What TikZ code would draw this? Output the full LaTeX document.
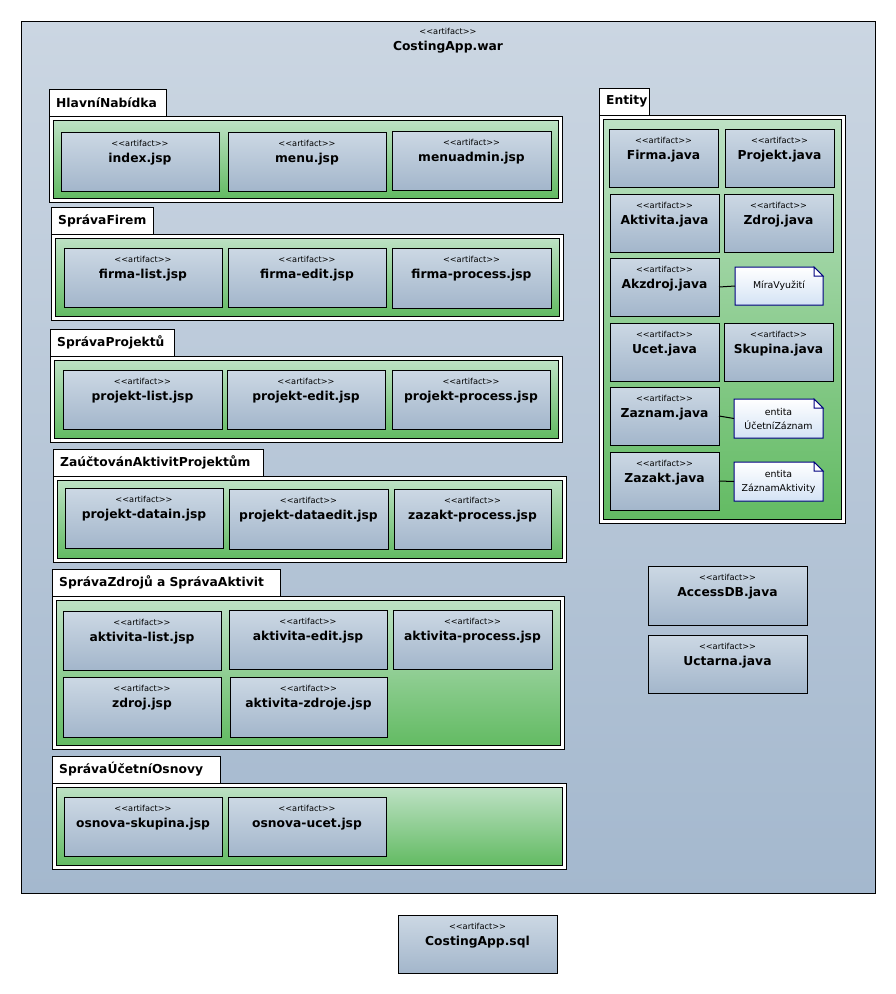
\documentclass[tikz,border=0pt]{standalone}
\usepackage{fontspec}
\setmainfont{DejaVu Sans}
\definecolor{wartop}{HTML}{CBD6E2}
\definecolor{warbot}{HTML}{A4B8CE}
\definecolor{arttop}{HTML}{CCD8E4}
\definecolor{artbot}{HTML}{A3B6CB}
\definecolor{grtop}{HTML}{BDE1C4}
\definecolor{grbot}{HTML}{63BB63}
\definecolor{notebot}{HTML}{D4E3F5}
\definecolor{notedraw}{HTML}{000080}
\tikzset{
  artbox/.style={draw=black, line width=1pt, top color=arttop, bottom color=artbot, inner sep=0pt, outer sep=0pt, anchor=north west},
  stereo/.style={font=\fontsize{8.2}{9}\selectfont, inner sep=0pt},
  aname/.style={font=\bfseries\fontsize{12.3}{14}\selectfont, inner sep=0pt},
  tablbl/.style={font=\bfseries\fontsize{12.3}{14}\selectfont, inner sep=0pt, anchor=west},
  pkgline/.style={draw=black, line width=1pt, fill=white},
  greenbox/.style={draw=black, line width=1pt, top color=grtop, bottom color=grbot},
  notetxt/.style={inner sep=0pt, outer sep=0pt, anchor=north west, align=center, font=\fontsize{9.4}{14}\selectfont},
  noteline/.style={draw=notedraw, line width=1pt},
  link/.style={draw=black, line width=1pt}
}
\newcommand{\stereotext}{<\kern0pt<artifact>\kern0pt>}
% name x y w h label
\newcommand{\artf}[6]{%
  \node[artbox, minimum width=#4pt, minimum height=#5pt] (#1) at (#2,#3) {};
  \node[stereo] (#1st) at ([yshift=-11pt]#1.north) {\stereotext};
  \node[aname] (#1nm) at ([yshift=-27pt]#1.north) {#6};}
% name x1 tabtop tabright bodytop x2 y2 label
\newcommand{\pkg}[8]{%
  \path[pkgline] (#2,#3) rectangle (#4,#5);
  \node[tablbl] (#1) at (#2+7,{(#3+#5)/2}) {#8};
  \path[pkgline] (#2,#5) rectangle (#6,#7);
  \path[greenbox] (#2+4,#5+4) rectangle (#6-4,#7-4);}
% name x y w h text
\newcommand{\notebox}[6]{%
  \path[noteline, top color=white, bottom color=notebot] (#2,#3) -- (#2+#4-9,#3) -- (#2+#4,#3+9) -- (#2+#4,#3+#5) -- (#2,#3+#5) -- cycle;
  \path[noteline, fill=white] (#2+#4-9,#3) -- (#2+#4-9,#3+9) -- (#2+#4,#3+9) -- cycle;
  \node[notetxt, minimum width=#4pt, minimum height=#5pt] (#1) at (#2,#3) {#6};}
\begin{document}
\begin{tikzpicture}[x=1pt,y=-1pt]
\useasboundingbox (0,0) rectangle (895,994);
% outer war artifact
\node[draw=black, line width=1pt, top color=wartop, bottom color=warbot, inner sep=0pt, outer sep=0pt, anchor=north west, minimum width=854pt, minimum height=872pt] (war) at (21,21) {};
\node[stereo] (warst) at (448,31) {\stereotext};
\node[aname] (warnm) at (448,47) {CostingApp.war};

% packages
\pkg{hlavni}{49}{89}{166}{116}{562}{202}{HlavníNabídka}
\pkg{firem}{51}{207}{153}{234}{563}{320}{SprávaFirem}
\pkg{projektu}{50}{329}{174}{356}{562}{442}{SprávaProjektů}
\pkg{zauct}{53}{449}{263}{476}{566}{562}{ZaúčtovánAktivitProjektům}
\pkg{zdroju}{52}{569}{280}{596}{564}{749}{SprávaZdrojů a SprávaAktivit}
\pkg{osnovy}{52}{756}{220}{783}{566}{869}{SprávaÚčetníOsnovy}
\pkg{entity}{599}{88}{649}{115}{845}{523}{Entity}

% artifacts
\artf{index}{61}{132}{158}{59}{index.jsp}
\artf{menu}{228}{132}{158}{59}{menu.jsp}
\artf{menuadmin}{392}{131}{159}{59}{menuadmin.jsp}
\artf{firmalist}{64}{248}{158}{59}{firma-list.jsp}
\artf{firmaedit}{228}{248}{158}{59}{firma-edit.jsp}
\artf{firmaproc}{392}{248}{159}{60}{firma-process.jsp}
\artf{projlist}{63}{370}{159}{59}{projekt-list.jsp}
\artf{projedit}{227}{370}{158}{59}{projekt-edit.jsp}
\artf{projproc}{392}{370}{158}{59}{projekt-process.jsp}
\artf{datain}{65}{488}{158}{60}{projekt-datain.jsp}
\artf{dataedit}{229}{489}{159}{60}{projekt-dataedit.jsp}
\artf{zazaktproc}{394}{489}{157}{60}{zazakt-process.jsp}
\artf{aktlist}{63}{611}{158}{59}{aktivita-list.jsp}
\artf{aktedit}{229}{610}{158}{59}{aktivita-edit.jsp}
\artf{aktproc}{393}{610}{159}{59}{aktivita-process.jsp}
\artf{zdrojjsp}{63}{677}{158}{60}{zdroj.jsp}
\artf{aktzdroje}{230}{677}{157}{60}{aktivita-zdroje.jsp}
\artf{osnskup}{64}{797}{158}{59}{osnova-skupina.jsp}
\artf{osnucet}{228}{797}{158}{59}{osnova-ucet.jsp}
\artf{firma}{609}{129}{109}{58}{Firma.java}
\artf{projekt}{725}{129}{109}{58}{Projekt.java}
\artf{aktivita}{610}{194}{109}{58}{Aktivita.java}
\artf{zdroj}{724}{194}{109}{58}{Zdroj.java}
\artf{akzdroj}{610}{258}{109}{58}{Akzdroj.java}
\artf{ucet}{610}{323}{109}{58}{Ucet.java}
\artf{skupina}{724}{323}{109}{58}{Skupina.java}
\artf{zaznam}{610}{387}{109}{58}{Zaznam.java}
\artf{zazakt}{610}{452}{109}{58}{Zazakt.java}
\artf{accessdb}{648}{566}{159}{59}{AccessDB.java}
\artf{uctarna}{648}{635}{159}{58}{Uctarna.java}
\artf{sql}{398}{915}{159}{58}{CostingApp.sql}

% notes
\notebox{mira}{735}{267}{88}{38}{MíraVyužití}
\notebox{ucz}{734}{399}{89}{39}{entita\\ÚčetníZáznam}
\notebox{zakt}{734}{462}{89}{39}{entita\\ZáznamAktivity}
\draw[link] (akzdroj.east) -- (mira.west);
\draw[link] (zaznam.east) -- (ucz.west);
\draw[link] (zazakt.east) -- (zakt.west);
\end{tikzpicture}
\end{document}
